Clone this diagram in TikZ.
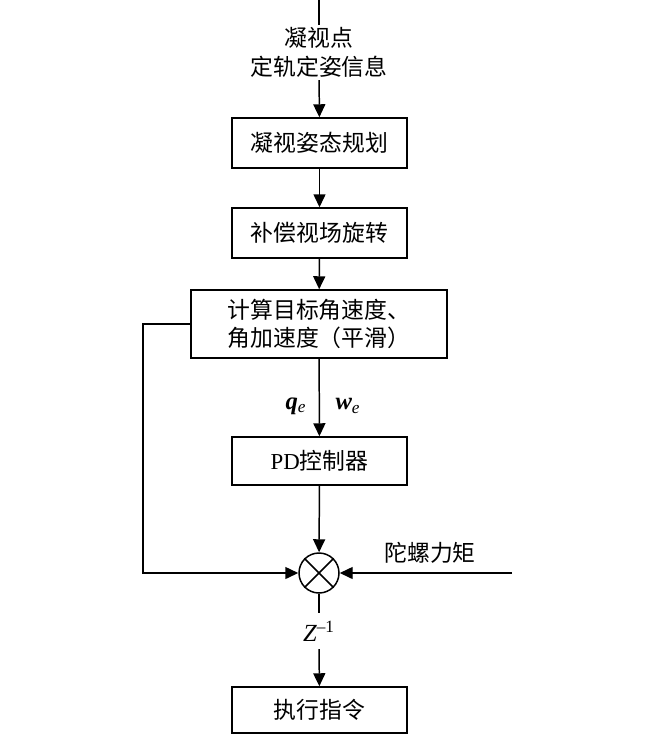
\documentclass[tikz,border=0pt]{standalone}
\usepackage{fontspec}
\setmainfont{Liberation Serif}
\newfontfamily\cjk{Noto Sans CJK SC}
\usetikzlibrary{arrows.meta}

\tikzset{block/.style={draw, text width=3.5cm, align=center, minimum height=1cm, inner sep=0pt, font=\cjk\fontsize{13}{16}\selectfont}}
\tikzset{label/.style={align=center, inner sep=1pt, font=\cjk\fontsize{13}{16.5}\selectfont}}
\tikzset{sym/.style={inner sep=1pt, font=\fontsize{14}{16}\selectfont}}
\tikzset{flow/.style={-{Triangle[length=0.26cm, width=0.24cm]}}}

\begin{document}
\begin{tikzpicture}[line width=0.85pt]
	\useasboundingbox (0,0) rectangle (13,-14.68);

	\coordinate (in) at (6.38,0);
	\node[label] (info) at (6.38,-1.05) {凝视点\\定轨定姿信息};

	\node[block] (plan) at (6.39,-2.86) {凝视姿态规划};
	\node[block] (comp) at (6.39,-4.66) {补偿视场旋转};
	\node[block, text width=5.12cm, minimum height=1.36cm] (calc) at (6.38,-6.48) {计算目标角速度、\\角加速度（平滑）};
	\node[block, minimum height=0.96cm] (pd) at (6.39,-9.22) {{\rmfamily PD}控制器};

	\node[draw, circle, minimum size=0.8cm, inner sep=0pt] (sum) at (6.38,-11.46) {};
	\draw (sum.north west) -- (sum.south east);
	\draw (sum.north east) -- (sum.south west);

	\node[sym, inner sep=4pt] (zinv) at (6.38,-12.62) {\itshape Z\textsuperscript{\upshape –1}};
	\node[block, minimum height=0.92cm] (exec) at (6.39,-14.2) {执行指令};

	\node[sym] (qe) at (5.92,-8.12) {\bfseries\itshape q\textsubscript{\mdseries e}};
	\node[sym] (we) at (6.96,-8.12) {\bfseries\itshape w\textsubscript{\mdseries e}};

	\coordinate (gyro) at (10.24,-11.46);
	\node[label] (gyro-label) at (8.6,-11.06) {陀螺力矩};
	\coordinate (fb) at (2.86,-6.48);

	\draw (in) -- (info);
	\draw[flow] (info) -- (plan);
	\draw[flow] (plan) -- (comp);
	\draw[flow] (comp) -- (calc);
	\draw[flow] (calc) -- (pd);
	\draw[flow] (pd) -- (sum);
	\draw[flow] (calc.west) -- (fb) |- (sum.west);
	\draw[flow] (gyro) -- (sum.east);
	\draw (sum) -- (zinv);
	\draw[flow] (zinv) -- (exec);
\end{tikzpicture}
\end{document}
